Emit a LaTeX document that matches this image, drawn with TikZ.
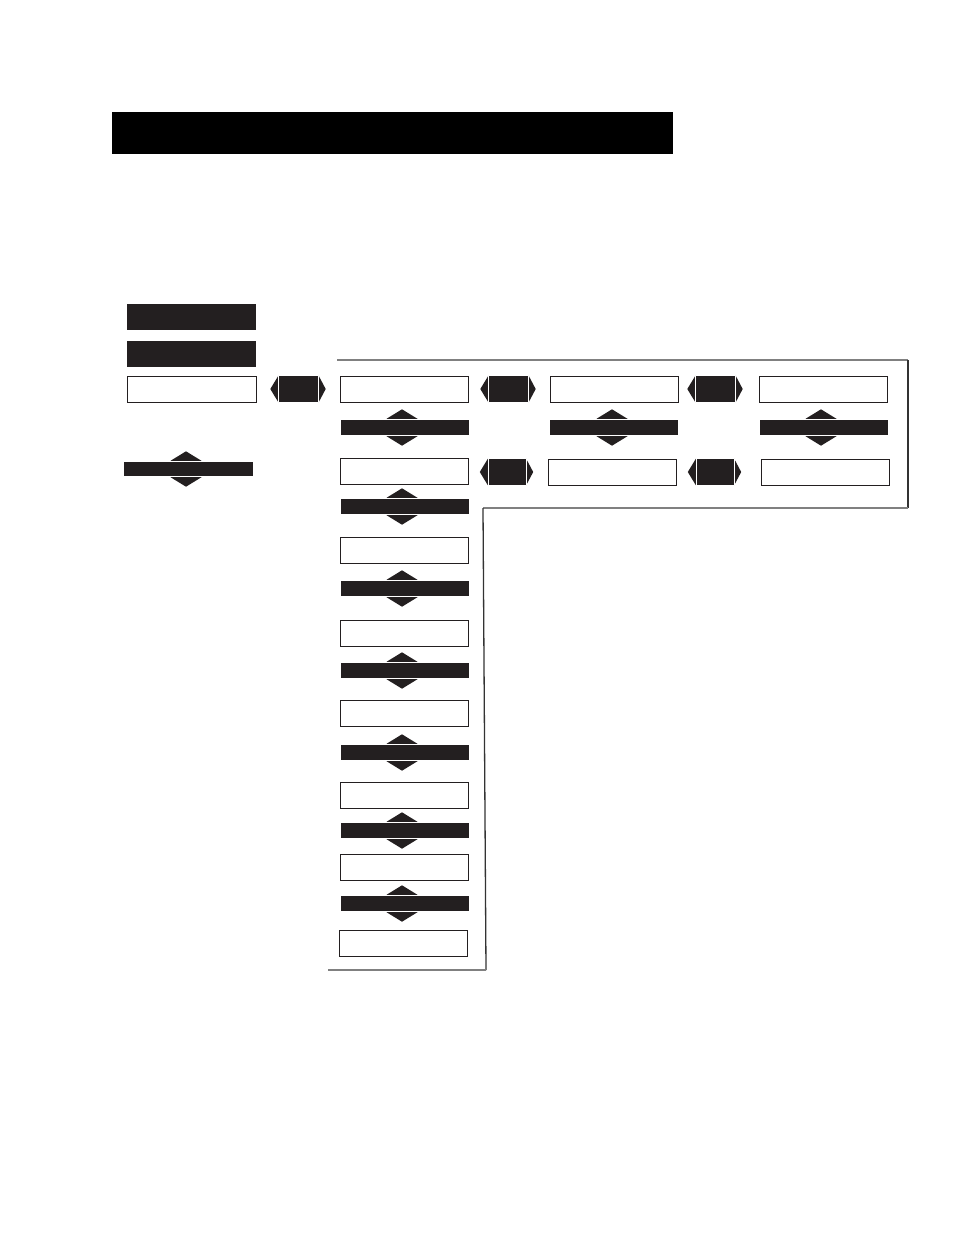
\documentclass[tikz,border=0pt]{standalone}
\usetikzlibrary{calc}
\definecolor{ink}{RGB}{35,31,32}
\tikzset{
  wbox/.style={draw=ink, line width=1pt, fill=white, minimum width=128pt, minimum height=26pt, inner sep=0pt},
  kbox/.style={fill=ink, minimum width=129pt, minimum height=26pt, inner sep=0pt},
  kbar/.style={fill=ink, minimum width=128pt, minimum height=15pt, inner sep=0pt},
  hexbody/.style={fill=ink, minimum width=40pt, minimum height=26pt, inner sep=0pt},
  sep/.style={draw=white, line width=0.6pt},
  frameh/.style={draw=black!50, line width=1.3pt},
  framev/.style={draw=black!80, line width=1.3pt}
}
\begin{document}
\begin{tikzpicture}[x=1pt,y=-1pt]
\useasboundingbox (0,0) rectangle (954,1235);
% title bar
\node[fill=black, minimum width=561pt, minimum height=42pt, inner sep=0pt] (title) at (392.5,133) {};
% left column
\node[kbox] (k1) at (191.5,317) {};
\node[kbox] (k2) at (191.5,354) {};
\node[wbox, minimum width=129pt] (w0) at (191.5,389) {};
\node[kbar, minimum width=129pt, minimum height=14pt] (b0) at (188.5,469) {};
% column 1
\node[wbox] (c1r1) at (404.5,389) {};
\node[kbar] (c1b1) at (404.5,427.5) {};
\node[wbox] (c1r2) at (404.5,471) {};
\node[kbar] (c1b2) at (404.5,506.5) {};
\node[wbox] (c1r3) at (404.5,550) {};
\node[kbar] (c1b3) at (404.5,588.5) {};
\node[wbox] (c1r4) at (404.5,633) {};
\node[kbar] (c1b4) at (404.5,670.5) {};
\node[wbox] (c1r5) at (404.5,713) {};
\node[kbar] (c1b5) at (404.5,752.5) {};
\node[wbox] (c1r6) at (404.5,795) {};
\node[kbar] (c1b6) at (404.5,830.5) {};
\node[wbox] (c1r7) at (404.5,867) {};
\node[kbar] (c1b7) at (404.5,903.5) {};
\node[wbox] (c1r8) at (403,943) {};
% column 2
\node[wbox] (c2r1) at (614,389) {};
\node[kbar] (c2b1) at (614,427.5) {};
\node[wbox] (c2r2) at (612,472) {};
% column 3
\node[wbox] (c3r1) at (823,389) {};
\node[kbar] (c3b1) at (823.5,427.5) {};
\node[wbox] (c3r2) at (825,472) {};
% hex connectors (bodies)
\node[hexbody] (h1) at (298.5,389) {};
\node[hexbody] (h2) at (508.5,389) {};
\node[hexbody] (h3) at (715.5,389) {};
\node[hexbody, minimum width=38pt] (h2b) at (507,472) {};
\node[hexbody, minimum width=38pt] (h3b) at (715,472) {};
\foreach \h in {h1,h2,h3,h2b,h3b}{
  \fill[ink] (\h.north west) -- ($(\h.west)+(-8,0)$) -- (\h.south west) -- cycle;
  \fill[ink] (\h.north east) -- ($(\h.east)+(7,0)$) -- (\h.south east) -- cycle;
  \draw[sep] (\h.north west) -- (\h.south west);
  \draw[sep] (\h.north east) -- (\h.south east);
}
% up/down arrows on bars
\foreach \b/\cx in {b0/186, c1b1/402, c1b2/402, c1b3/402, c1b4/402, c1b5/402, c1b6/402, c1b7/402, c2b1/612, c3b1/821}{
  \path let \p1=(\b.north), \p2=(\b.south) in
    [fill=ink] (\cx-15.5,\y1+1) -- (\cx,\y1+10.5) -- (\cx+15.5,\y1+1) -- cycle
    (\cx-15.5,\y2-1) -- (\cx,\y2-10.5) -- (\cx+15.5,\y2-1) -- cycle;
}
% frame
\coordinate (f1) at (337,360);
\coordinate (f2) at (908,360);
\coordinate (f3) at (908,508);
\coordinate (f4) at (483,508);
\coordinate (f5) at (486,970);
\coordinate (f6) at (328,970);
\draw[frameh] (f1) -- (f2);
\draw[framev] (f2) -- (f3);
\draw[frameh] (f3) -- (f4);
\draw[framev] (f4) -- (f5);
\draw[frameh] (f5) -- (f6);
\end{tikzpicture}
\end{document}
